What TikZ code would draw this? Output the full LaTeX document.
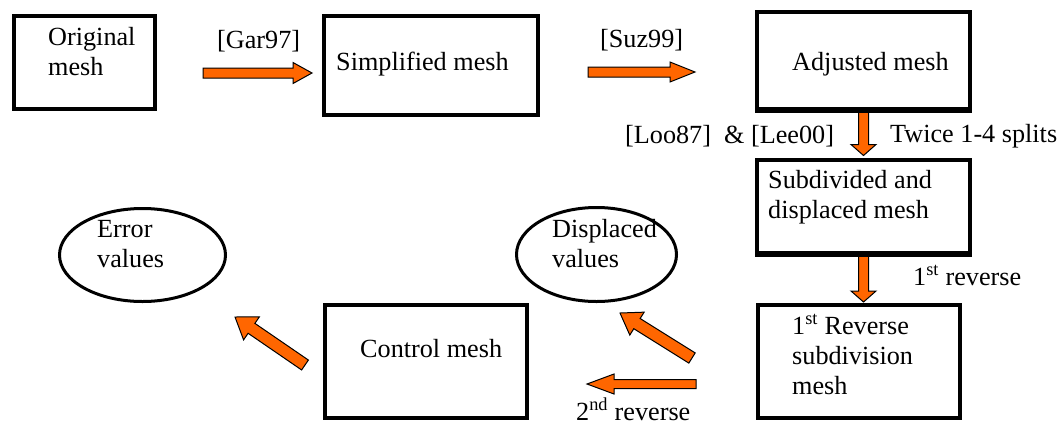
\documentclass[tikz,border=0pt]{standalone}
\usepackage{fontspec}
\setmainfont{Liberation Serif}
\usetikzlibrary{calc,shapes.geometric}
\definecolor{arrfill}{RGB}{255,102,0}
\tikzset{
  box/.style={draw, line width=4pt, rectangle, inner sep=0pt},
  oval/.style={draw, line width=3pt, ellipse, inner sep=0pt},
  txt/.style={font=\fontsize{26.2pt}{30pt}\selectfont, inner sep=0pt, anchor=base west, align=left},
  barrowstyle/.style={fill=arrfill, draw=black, line width=1pt, line join=miter},
}
% block arrow: start, end, head length, head half width, shaft half width
\newcommand\blockarr[5]{%
  \path[barrowstyle] let \p1=($(#2)-(#1)$), \n1={atan2(\y1,\x1)}, \n2={veclen(\x1,\y1)} in
    [shift={(#1)}, rotate=\n1] (0,-#5) -- (\n2-#3,-#5) -- (\n2-#3,-#4) -- (\n2,0)
    -- (\n2-#3,#4) -- (\n2-#3,#5) -- (0,#5) -- cycle;}
\begin{document}
\begin{tikzpicture}[x=1pt,y=-1pt]
\useasboundingbox (0,0) rectangle (1063,432);
% shapes
\node[box, minimum width=141pt, minimum height=93pt] (orig) at (84.5,62.5) {};
\node[box, minimum width=214pt, minimum height=99pt] (simp) at (431,65.5) {};
\node[box, minimum width=213pt, minimum height=97pt] (adj) at (863.5,60.5) {};
\node[box, minimum width=213pt, minimum height=93pt] (sub) at (863.5,206.5) {};
\node[box, minimum width=202pt, minimum height=113pt] (rev) at (858.5,361.5) {};
\node[box, minimum width=202pt, minimum height=113pt] (ctrl) at (426,361.5) {};
\node[oval, minimum width=166pt, minimum height=93pt] (err) at (142.5,255) {};
\node[oval, minimum width=160pt, minimum height=94pt] (disp) at (596.5,254.5) {};
% texts (base = baseline of the last line)
\node[txt] (origT) at (48,75) {Original\\mesh};
\node[txt] (simpT) at (336,70) {Simplified mesh};
\node[txt] (adjT) at (792,70) {Adjusted mesh};
\node[txt] (subT) at (768,218) {Subdivided and\\displaced mesh};
\node[txt] (revT) at (792,394) {1\textsuperscript{st} Reverse\\subdivision\\mesh};
\node[txt] (ctrlT) at (360,357) {Control mesh};
\node[txt] (errT) at (97,267) {Error\\values};
\node[txt] (dispT) at (552,267) {Displaced\\values};
% labels
\node[txt] (garL) at (217,48) {[Gar97]};
\node[txt] (suzL) at (600,47) {[Suz99]};
\node[txt] (looL) at (625,143) {[Loo87]~~\& [Lee00]};
\node[txt] (twL) at (890,142) {Twice 1-4 splits};
\node[txt] (r1L) at (913,285) {1\textsuperscript{st} reverse};
\node[txt] (r2L) at (576,420) {2\textsuperscript{nd} reverse};
% arrow end points
\coordinate (g1) at (203,73); \coordinate (g2) at (312,73);
\coordinate (s1) at (588,72); \coordinate (s2) at (695,72);
\coordinate (d1e) at ($(sub.north)+(0,-2.5)$);
\coordinate (d2e) at (863.5,302);
\coordinate (r1) at (692,358); \coordinate (r2) at (620,313);
\coordinate (l1) at (696,384); \coordinate (l2) at (587,384);
\coordinate (c1) at (305,365); \coordinate (c2) at (235,317);
% arrows
\blockarr{g1}{g2}{19}{10.5}{5}
\blockarr{s1}{s2}{25}{10}{5}
\blockarr{adj.south}{d1e}{11}{12.5}{5}
\blockarr{sub.south}{d2e}{11}{12.5}{5}
\blockarr{r1}{r2}{20}{13.5}{6}
\blockarr{l1}{l2}{27}{10}{4.5}
\blockarr{c1}{c2}{20}{14}{6}
% redraw box borders on top of arrow tails
\draw[line width=4pt] (adj.south west) -- (adj.south east);
\draw[line width=4pt] (sub.south west) -- (sub.south east);
\end{tikzpicture}
\end{document}
